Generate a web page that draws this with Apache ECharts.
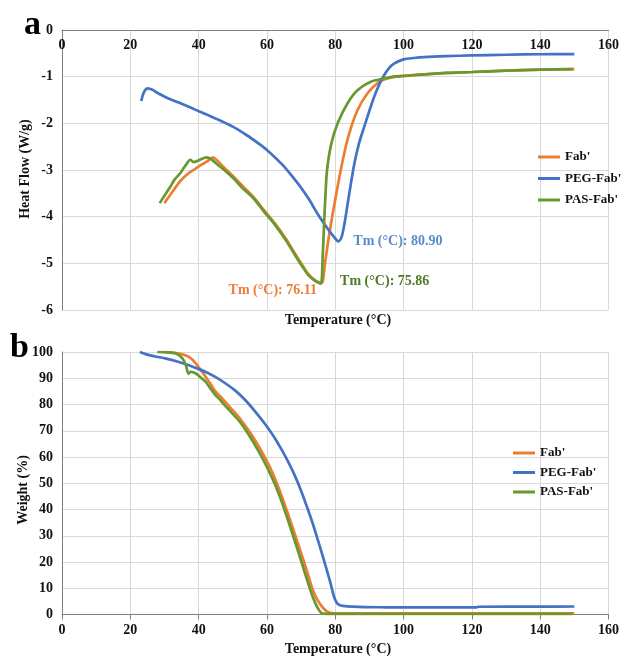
<!DOCTYPE html>
<html>
<head>
<meta charset="utf-8">
<script src="https://cdn.jsdelivr.net/npm/echarts@6/dist/echarts.min.js"></script>
<style>
  html, body { margin: 0; padding: 0; background: #fff; }
  #chart { width: 622px; height: 657px; }
</style>
</head>
<body>
<div id="chart"></div>
<script>
// DSC heat flow curves: [temperature °C, heat flow W/g]
const fabHeat = [[30,-3.71],[32,-3.5],[34.5,-3.25],[36.5,-3.1],[38.5,-3.0],[40.5,-2.9],[42.4,-2.82],[44.2,-2.73],[45.5,-2.8],[47.5,-2.95],[50.2,-3.14],[53,-3.35],[56.1,-3.58],[59,-3.85],[62.4,-4.15],[65.5,-4.47],[68.2,-4.79],[70.2,-5.02],[72,-5.22],[74,-5.36],[75.3,-5.41],[76.11,-5.42],[77,-5.0],[78.3,-4.35],[80.2,-3.55],[82,-2.86],[83.8,-2.29],[86.5,-1.72],[89.4,-1.36],[92.3,-1.14],[94.3,-1.06],[97,-1.01],[100,-0.99],[106,-0.95],[112.6,-0.92],[120,-0.9],[130,-0.87],[140,-0.85],[150,-0.84]];
const pegHeat = [[23.2,-1.52],[24,-1.33],[25.1,-1.25],[26.5,-1.28],[28,-1.35],[30.7,-1.45],[34,-1.55],[38.5,-1.69],[42,-1.8],[46.3,-1.94],[50,-2.07],[54,-2.25],[57.5,-2.43],[60,-2.57],[64.3,-2.87],[67,-3.1],[70.1,-3.39],[72.5,-3.65],[74.9,-3.95],[77.8,-4.26],[79.5,-4.42],[80.9,-4.53],[81.8,-4.45],[82.7,-4.15],[84,-3.55],[85.6,-2.86],[87,-2.42],[88.5,-2.07],[90,-1.73],[91.4,-1.43],[92.8,-1.18],[94.3,-0.97],[95.7,-0.82],[97.2,-0.72],[100,-0.63],[103,-0.6],[106,-0.58],[112.6,-0.56],[120,-0.545],[130,-0.53],[140,-0.52],[150,-0.515]];
const pasHeat = [[28.6,-3.71],[30,-3.55],[31.7,-3.36],[33,-3.2],[34.6,-3.07],[36,-2.92],[37.6,-2.78],[38.5,-2.83],[39.5,-2.81],[41,-2.76],[42.4,-2.73],[43.5,-2.76],[45,-2.85],[47.5,-3.0],[50.2,-3.18],[53,-3.4],[56.1,-3.61],[59,-3.88],[62.4,-4.18],[65.5,-4.5],[68.2,-4.82],[70.2,-5.05],[72,-5.24],[74,-5.37],[75.3,-5.42],[75.86,-5.43],[76.3,-4.9],[76.7,-4.2],[77.1,-3.58],[77.6,-3.0],[78.8,-2.45],[80.7,-2.0],[83.6,-1.57],[86.5,-1.29],[90.4,-1.11],[94.3,-1.04],[97,-1.0],[100,-0.98],[106,-0.95],[112.6,-0.92],[120,-0.9],[130,-0.87],[140,-0.85],[149.5,-0.84]];

// Melting temperatures (°C) and the heat flow at each one
const tmFab = [76.11, -5.42];
const tmPeg = [80.90, -4.53];
const tmPas = [75.86, -5.43];

// TGA weight curves: [temperature °C, weight %]
const fabWeight = [[30,100],[33.4,99.6],[36.3,98.7],[37.8,97.5],[39.2,95.6],[40.6,93.2],[42.1,90.5],[43.5,87.8],[45,84.8],[46.9,82.3],[49,79.2],[51.7,75.3],[53.6,72],[55.6,68.3],[57.5,64.3],[59.5,59.6],[61,55.8],[62.4,51.6],[64.3,45.2],[66.2,38.2],[68.2,30.5],[70.1,23],[71.6,17],[73,11],[74.2,7],[75.4,4.3],[76.6,2.3],[77.8,1],[79.8,0.4],[85,0.4],[100,0.4],[120,0.4],[150,0.4]];
const pegWeight = [[22.8,100],[24.7,99.1],[27,98.4],[30.5,97.5],[33.5,96.5],[36.3,95.3],[39,94],[42.1,92.4],[45,90.4],[47.9,88],[51,85],[53.7,81.6],[56.5,77.4],[59.5,72.5],[62,67.8],[64.3,62.8],[66.2,58.2],[68.2,52.8],[70.1,46.8],[72,40],[73.5,34.3],[74.9,28.4],[76.4,22],[77.8,15.7],[78.8,11],[79.6,6.9],[80.2,5],[80.7,4.1],[81.4,3.5],[82.2,3.3],[85,3.0],[88.5,2.8],[95,2.75],[105,2.7],[112.6,2.7],[121,2.7],[122,2.95],[130,3.0],[140,3.0],[150,3.05]];
const pasWeight = [[27.9,100],[30,99.9],[33.4,99.4],[35.3,97.5],[36.3,94.9],[37,91.8],[37.7,92.4],[39.2,91.8],[40.6,90.3],[42.1,88.6],[43.5,86],[45,83.5],[45.9,82.3],[48.5,78.5],[51.7,74],[53.6,70.6],[55.6,66.6],[57.5,62.3],[59.5,57.5],[61,53.5],[62.4,49.4],[64.3,43],[66.2,35.8],[68.2,27.8],[70.1,20.1],[71.6,13.8],[73,8.2],[74,4.8],[74.9,2.4],[75.7,0.9],[76.3,0.3],[80,0.2],[100,0.2],[120,0.2],[149.5,0.2]];

const seriesNames = ["Fab'", "PEG-Fab'", "PAS-Fab'"];
const tempTicks = { min: 0, max: 160, interval: 20 };
const heatTicks = { min: -6, max: 0, interval: 1 };
const weightTicks = { min: 0, max: 100, interval: 10 };

const COLORS = { fab: '#ED7D31', peg: '#4472C4', pas: '#67992F' };
const SERIF = "'Liberation Serif', 'Times New Roman', serif";
const GRID_LINE = '#d9d9d9';
const AXIS_LINE = '#808080';

const tickLabel = { fontFamily: SERIF, fontWeight: 'bold', fontSize: 14, color: '#111' };

function curve(name, data, color, xi, extra) {
  return Object.assign({
    name, type: 'line', data, xAxisIndex: xi, yAxisIndex: xi,
    showSymbol: false, symbol: 'none', smooth: 0.3,
    lineStyle: { color, width: 2.7 }, itemStyle: { color },
    emphasis: { disabled: true }, z: 3
  }, extra || {});
}

function tmMark(point, color, pos, align) {
  return {
    symbol: 'circle', symbolSize: 2,
    itemStyle: { color: 'rgba(0,0,0,0)' },
    data: [{ coord: point }],
    label: {
      show: true, position: pos, align, verticalAlign: 'middle',
      formatter: 'Tm (°C): ' + point[0].toFixed(2),
      fontFamily: SERIF, fontWeight: 'bold', fontSize: 14, color
    }
  };
}

const legendBase = {
  orient: 'vertical', icon: 'rect', itemWidth: 22, itemHeight: 3, padding: 0,
  selectedMode: false, data: seriesNames,
  textStyle: { fontFamily: SERIF, fontWeight: 'bold', fontSize: 13, color: '#111', lineHeight: 16 }
};

const chart = echarts.init(document.getElementById('chart'), null, { renderer: 'canvas' });
chart.setOption({
  animation: false,
  backgroundColor: '#fff',
  color: [COLORS.fab, COLORS.peg, COLORS.pas],
  grid: [
    { left: 62, right: 9, top: 30, height: 280 },
    { left: 62, right: 9, top: 352, height: 262.5 }
  ],
  legend: [
    Object.assign({}, legendBase, { left: 538, top: 149, itemGap: 5.5 }),
    Object.assign({}, legendBase, { left: 513, top: 445, itemGap: 3.5 })
  ],
  xAxis: [
    Object.assign({ gridIndex: 0, type: 'value', position: 'top' }, tempTicks, {
      axisLine: { show: true, onZero: false, lineStyle: { color: AXIS_LINE, width: 1 } },
      axisTick: { show: false },
      axisLabel: Object.assign({ inside: true, margin: 8 }, tickLabel),
      splitLine: { show: true, lineStyle: { color: GRID_LINE, width: 1 } }
    }),
    Object.assign({ gridIndex: 1, type: 'value', position: 'bottom' }, tempTicks, {
      axisLine: { show: true, onZero: false, lineStyle: { color: AXIS_LINE, width: 1 } },
      axisTick: { show: true, inside: false, length: 5, lineStyle: { color: AXIS_LINE } },
      axisLabel: Object.assign({ margin: 9 }, tickLabel),
      splitLine: { show: true, lineStyle: { color: GRID_LINE, width: 1 } }
    })
  ],
  yAxis: [
    Object.assign({ gridIndex: 0, type: 'value' }, heatTicks, {
      axisLine: { show: true, onZero: false, lineStyle: { color: AXIS_LINE, width: 1 } },
      axisTick: { show: false },
      axisLabel: Object.assign({ margin: 9 }, tickLabel),
      splitLine: { show: true, lineStyle: { color: GRID_LINE, width: 1 } }
    }),
    Object.assign({ gridIndex: 1, type: 'value' }, weightTicks, {
      axisLine: { show: true, onZero: false, lineStyle: { color: AXIS_LINE, width: 1 } },
      axisTick: { show: false },
      axisLabel: Object.assign({ margin: 9 }, tickLabel),
      splitLine: { show: true, lineStyle: { color: GRID_LINE, width: 1 } }
    })
  ],
  series: [
    curve(seriesNames[0], fabHeat, COLORS.fab, 0, { markPoint: tmMark(tmFab, '#ED7D31', [-4, 8], 'right') }),
    curve(seriesNames[1], pegHeat, COLORS.peg, 0, { markPoint: tmMark(tmPeg, '#5A8ACB', [16, 1], 'left') }),
    curve(seriesNames[2], pasHeat, COLORS.pas, 0, { markPoint: tmMark(tmPas, '#4E7A26', [20, -1], 'left') }),
    curve(seriesNames[0], fabWeight, COLORS.fab, 1),
    curve(seriesNames[1], pegWeight, COLORS.peg, 1),
    curve(seriesNames[2], pasWeight, COLORS.pas, 1)
  ],
  graphic: [
    { type: 'text', left: 24, top: 8, style: { text: 'a', font: "bold 34px " + SERIF, fill: '#000' } },
    { type: 'text', left: 10, top: 331, style: { text: 'b', font: "bold 34px " + SERIF, fill: '#000' } },
    { type: 'text', x: 338, y: 320, style: { text: 'Temperature (°C)', font: "bold 14px " + SERIF, fill: '#111', align: 'center', verticalAlign: 'middle' } },
    { type: 'text', x: 338, y: 649, style: { text: 'Temperature (°C)', font: "bold 14px " + SERIF, fill: '#111', align: 'center', verticalAlign: 'middle' } },
    { type: 'text', x: 25, y: 169, rotation: Math.PI / 2, style: { text: 'Heat Flow (W/g)', font: "bold 14px " + SERIF, fill: '#111', align: 'center', verticalAlign: 'middle' } },
    { type: 'text', x: 23, y: 490, rotation: Math.PI / 2, style: { text: 'Weight (%)', font: "bold 14px " + SERIF, fill: '#111', align: 'center', verticalAlign: 'middle' } }
  ]
});
</script>
</body>
</html>
